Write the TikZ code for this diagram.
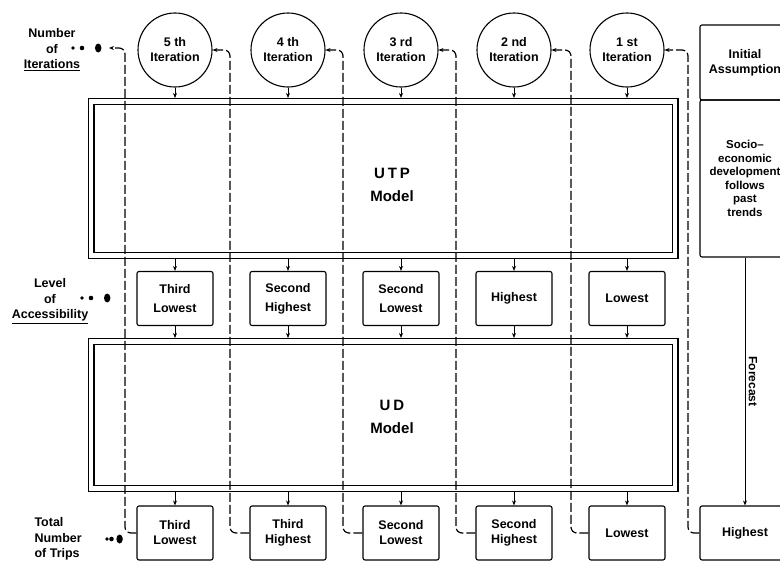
\documentclass[tikz,border=0pt]{standalone}
\usepackage{fontspec}
\setmainfont{Liberation Sans}
\usetikzlibrary{arrows.meta, positioning}
\tikzstyle{arrow} = [line width=1pt,-{Stealth[length=5pt,width=4pt]}]
\tikzstyle{feedback} = [arrow, line width=1.2pt, dash pattern=on 9pt off 3pt, rounded corners=6pt]
\tikzstyle{iteration} = [
circle, draw=black, line width=1.1pt, minimum size=74pt, inner sep=0pt,
align=center, font=\bfseries\fontsize{12.5}{15}\selectfont
]
\tikzstyle{levelbox} = [
rectangle, rounded corners=2pt, draw=black, line width=1.1pt,
minimum width=76pt, minimum height=54pt, align=center,
font=\bfseries\fontsize{12.5}{19}\selectfont
]
\tikzstyle{tripbox} = [levelbox, font=\bfseries\fontsize{12.5}{15}\selectfont]
\tikzstyle{modelbox} = [
rectangle, draw=black, double, double distance=4.8pt, line width=1.1pt,
outer sep=3.5pt, inner sep=0pt
]
\tikzstyle{modeltext} = [align=center, font=\bfseries\fontsize{15}{23}\selectfont]
\tikzstyle{assumbox} = [
rectangle, rounded corners=2pt, draw=black, line width=1.1pt,
minimum width=90pt, align=center, font=\bfseries\fontsize{12.5}{15}\selectfont
]
\tikzstyle{sidelabel} = [align=center, font=\bfseries\fontsize{12.5}{15.5}\selectfont]
\tikzstyle{forecast} = [midway, anchor=south, rotate=-90, font=\bfseries\fontsize{12}{13}\selectfont]
\tikzset{pics/dotrow/.style={code={
	\fill (0,0) circle (1.8pt);
	\fill (#1,0) circle (2.3pt);
	\fill (2.8*#1,0) ellipse (3.2pt and 4.5pt);
}}}

\begin{document}
\begin{tikzpicture}[x=1pt, y=-1pt, node distance=113pt]
	\clip (0,0) rectangle (780,562);
	\fill[white] (0,0) rectangle (780,562);

	% Iteration circles
	\node (it5) [iteration] at (175,50) {5 th\\Iteration};
	\node (it4) [iteration, right of=it5] {4 th\\Iteration};
	\node (it3) [iteration, right of=it4] {3 rd\\Iteration};
	\node (it2) [iteration, right of=it3] {2 nd\\Iteration};
	\node (it1) [iteration, right of=it2] {1 st\\Iteration};

	% Models
	\node (utp) [modelbox, minimum width=584pt, minimum height=154pt] at (383,178.5) {};
	\node (ud) [modelbox, minimum width=584pt, minimum height=147pt] at (383,415) {};
	\node (utptext) [modeltext] at (392,185) {{\addfontfeature{LetterSpace=20}UTP}\\Model};
	\node (udtext) [modeltext] at (392,417) {{\addfontfeature{LetterSpace=20}UD}\\Model};

	% Level of accessibility
	\node (acc5) [levelbox] at (175,298.5) {Third\\Lowest};
	\node (acc4) [levelbox, right of=acc5] {Second\\Highest};
	\node (acc3) [levelbox, right of=acc4] {Second\\Lowest};
	\node (acc2) [levelbox, right of=acc3] {Highest};
	\node (acc1) [levelbox, right of=acc2] {Lowest};

	% Total number of trips
	\node (trip5) [tripbox] at (175,533) {Third\\Lowest};
	\node (trip4) [tripbox, right of=trip5] {Third\\Highest};
	\node (trip3) [tripbox, right of=trip4] {Second\\Lowest};
	\node (trip2) [tripbox, right of=trip3] {Second\\Highest};
	\node (trip1) [tripbox, right of=trip2] {Lowest};
	\node (trip0) [tripbox, minimum width=90pt] at (745,533) {Highest};

	% Initial assumption
	\node (init) [assumbox, minimum height=75pt] at (745,62.5) {Initial\\Assumption};
	\node (socio) [assumbox, minimum height=157pt, font=\bfseries\fontsize{11.5}{13.5}\selectfont] at (745,178.5) {Socio--\\economic\\development\\follows\\past\\trends};

	% Side labels
	\node (iterlabel) [sidelabel] at (52,50) {Number\\of\\\underline{Iterations}};
	\pic at (73,48) {dotrow=9};
	\coordinate (itdots) at (109,48);
	\node (acclabel) [sidelabel] at (50,301) {Level\\of\\\underline{Accessibility}};
	\pic at (82,298) {dotrow=9};
	\node (triplabel) [sidelabel, align=left, anchor=west] at (31,539) {Total\\Number\\of Trips};
	\pic at (107,539) {dotrow=4.5};

	% Connections
	\draw [arrow] (it5) -- (utp.north -| it5);
	\draw [arrow] (it4) -- (utp.north -| it4);
	\draw [arrow] (it3) -- (utp.north -| it3);
	\draw [arrow] (it2) -- (utp.north -| it2);
	\draw [arrow] (it1) -- (utp.north -| it1);
	\draw [arrow] (utp.south -| acc5) -- (acc5);
	\draw [arrow] (utp.south -| acc4) -- (acc4);
	\draw [arrow] (utp.south -| acc3) -- (acc3);
	\draw [arrow] (utp.south -| acc2) -- (acc2);
	\draw [arrow] (utp.south -| acc1) -- (acc1);
	\draw [arrow] (acc5) -- (ud.north -| acc5);
	\draw [arrow] (acc4) -- (ud.north -| acc4);
	\draw [arrow] (acc3) -- (ud.north -| acc3);
	\draw [arrow] (acc2) -- (ud.north -| acc2);
	\draw [arrow] (acc1) -- (ud.north -| acc1);
	\draw [arrow] (ud.south -| trip5) -- (trip5);
	\draw [arrow] (ud.south -| trip4) -- (trip4);
	\draw [arrow] (ud.south -| trip3) -- (trip3);
	\draw [arrow] (ud.south -| trip2) -- (trip2);
	\draw [arrow] (ud.south -| trip1) -- (trip1);
	\draw [arrow] (socio) -- node[forecast] {Forecast} (trip0);

	% Feedback to next iteration
	\coordinate (c0) at (125,300);
	\coordinate (c1) at (230,300);
	\coordinate (c2) at (343,300);
	\coordinate (c3) at (456,300);
	\coordinate (c4) at (571,300);
	\coordinate (c5) at (688,300);
	\draw [feedback] (trip5.west) -| (c0) |- (itdots);
	\draw [feedback] (trip4.west) -| (c1) |- (it5.east);
	\draw [feedback] (trip3.west) -| (c2) |- (it4.east);
	\draw [feedback] (trip2.west) -| (c3) |- (it3.east);
	\draw [feedback] (trip1.west) -| (c4) |- (it2.east);
	\draw [feedback] (trip0.west) -| (c5) |- (it1.east);
\end{tikzpicture}
\end{document}
